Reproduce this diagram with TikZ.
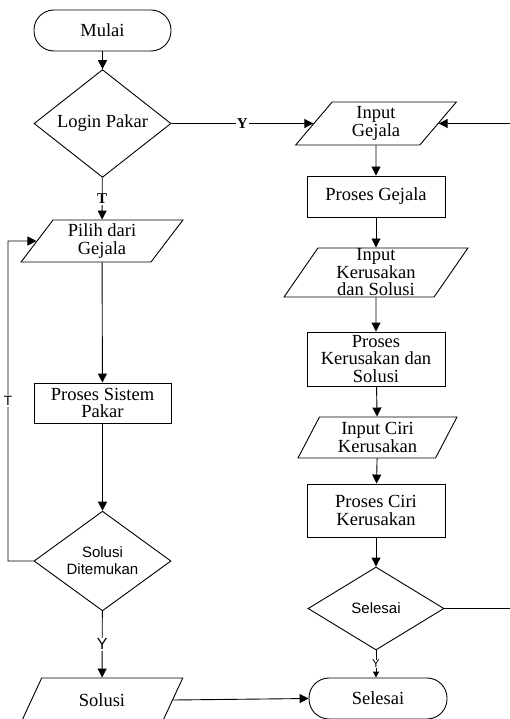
\documentclass[tikz,border=0pt]{standalone}
\usepackage{fontspec}
\setmainfont{Liberation Serif}
\newfontfamily\arialfam{Liberation Sans}
\usetikzlibrary{shapes.geometric,arrows.meta}
\begin{document}
\begin{tikzpicture}[x=1pt,y=-1pt,
  base/.style={draw, line width=0.9pt, font=\fontsize{18.5}{17.5}\selectfont, align=center, inner sep=0pt},
  term/.style={base, rectangle, rounded corners=20pt, minimum width=137pt, minimum height=41pt},
  proc/.style={base, rectangle, minimum width=138pt},
  dec/.style={base, diamond, minimum width=137pt, minimum height=83pt},
  io/.style 2 args={base, trapezium, trapezium stretches=true, trapezium left angle=#1, trapezium right angle=#2},
  sansdec/.style={font=\arialfam\fontsize{15}{17}\selectfont},
  conn/.style={line width=0.9pt, -{Triangle[length=9pt,width=9pt]}},
  plain/.style={line width=0.9pt},
  lbl/.style={fill=white, inner sep=1pt, font=\bfseries\fontsize{15}{15}\selectfont},
  slbl/.style={fill=white, inner sep=1pt, font=\arialfam\fontsize{16}{16}\selectfont}
]
\useasboundingbox (0,0) rectangle (510,719);
\clip (0,0) rectangle (510,719);

% left column
\node[term] (mulai) at (102.5,30.5) {Mulai};
\node[dec] (login) at (102.5,123.5) {Login Pakar};
\node[io={57}{123}, minimum width=162pt, minimum height=42pt] (pilih) at (102,241) {Pilih dari\\Gejala};
\node[proc, minimum width=137pt, minimum height=40pt] (psp) at (102.5,403) {Proses Sistem\\Pakar};
\node[dec, sansdec] (soldit) at (102.5,561) {Solusi\\Ditemukan};
\node[io={59}{121}, minimum width=162pt, minimum height=44pt] (solusi) at (102,700) {Solusi};

% right column
\node[io={59}{121}, minimum width=162pt, minimum height=43pt] (ingej) at (376,123.5) {Input\\Gejala};
\node[proc, minimum height=41pt] (pgej) at (376,196.5) {Proses Gejala};
\node[io={64}{116}, minimum width=184pt, minimum height=49pt] (inker) at (376,272.5) {Input\\Kerusakan\\dan Solusi};
\node[proc, minimum height=54pt] (pker) at (376,359) {Proses\\Kerusakan dan\\Solusi};
\node[io={64}{116}, minimum width=159pt, minimum height=41pt] (inciri) at (377.5,437.5) {Input Ciri\\Kerusakan};
\node[proc, minimum height=53pt] (pciri) at (376,510.5) {Proses Ciri\\Kerusakan};
\node[dec, sansdec, minimum width=136pt] (seldec) at (376,608.5) {Selesai};
\node[term, minimum width=138pt] (selesai) at (378,698.5) {Selesai};

\coordinate (loopL) at (8,561);
\coordinate (loopT) at (8,241);
\coordinate (rtop) at (510,123.5);
\coordinate (rbot) at (510,608.5);

% connectors
\draw[conn] (mulai) -- (login);
\draw[conn] (login) -- node[lbl] {T} (pilih);
\draw[conn] (login) -- node[lbl] {Y} (ingej);
\draw[conn] (pilih) -- (psp);
\draw[conn] (psp) -- (soldit);
\draw[conn] (soldit.west) -- (loopL) -- node[pos=0.5, fill=white, inner sep=1pt, font=\arialfam\fontsize{13.5}{13.5}\selectfont] {T} (loopT) -- (pilih.west);
\draw[conn] (soldit) -- node[slbl] {Y} (solusi);
\draw[conn] (solusi.east) -- (selesai.west);

\draw[conn] (rtop) -- (ingej.east);
\draw[conn] (ingej) -- (pgej);
\draw[conn] (pgej) -- (inker);
\draw[conn] (inker) -- (pker);
\draw[conn] (pker) -- (inciri);
\draw[conn] (inciri) -- (pciri);
\draw[conn] (pciri) -- (seldec);
\draw[plain] (seldec.east) -- (rbot);
\draw[line width=0.9pt, -{Triangle[length=6pt,width=6pt]}] (seldec.south) -- node[fill=white, inner sep=0.5pt, font=\arialfam\fontsize{11.5}{11.5}\selectfont] {Y} (selesai.north -| seldec.south);
\end{tikzpicture}
\end{document}
